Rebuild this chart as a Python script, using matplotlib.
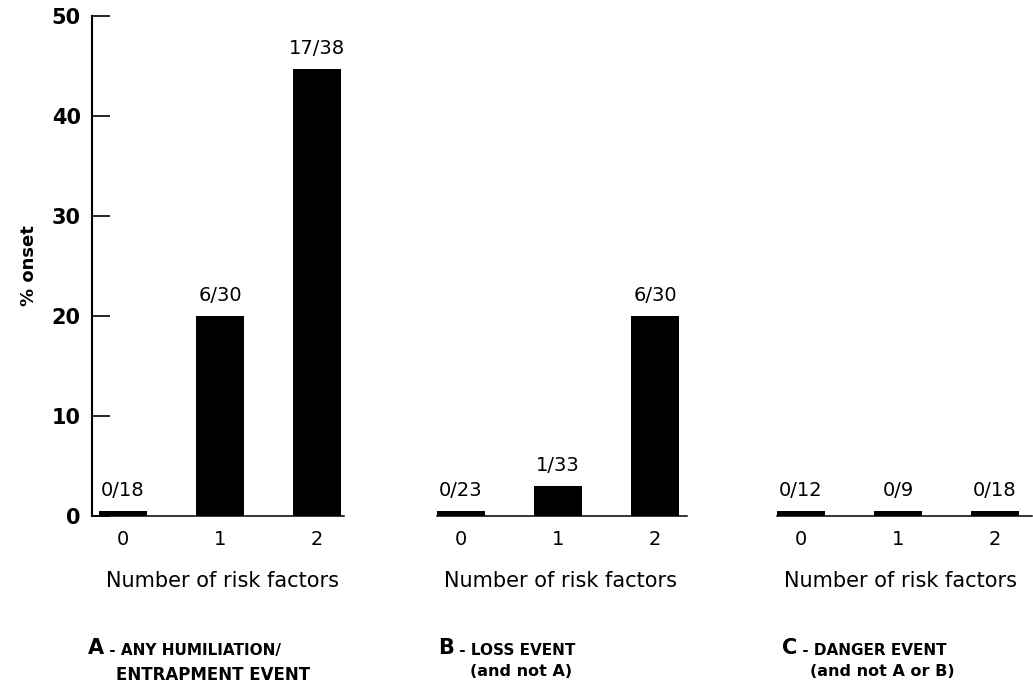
import numpy as np
import matplotlib
matplotlib.use("Agg")
import matplotlib.pyplot as plt

# Onset counts per number of risk factors, for each event type
risk_levels = ["0", "1", "2"]
onset_a = [0, 6, 17]
total_a = [18, 30, 38]
onset_b = [0, 1, 6]
total_b = [23, 33, 30]
onset_c = [0, 0, 0]
total_c = [12, 9, 18]

panel_letters = ["A", "B", "C"]
panel_heads = [" - ANY HUMILIATION/", " - LOSS EVENT", " - DANGER EVENT"]
panel_subs = ["ENTRAPMENT EVENT", "(and not A)", "(and not A or B)"]

y_ticks = [0, 10, 20, 30, 40, 50]
x_label = "Number of risk factors"
y_label = "% onset"

plt.rcParams["font.family"] = ["DejaVu Sans"]

W, H = 1033, 684
fig = plt.figure(figsize=(W / 100, H / 100), dpi=100)

# geometry in pixels
unit = 97.0
first_centres = [123, 461, 801]
xlim = (-0.32, 2.38)
y0_px, y50_px = 516, 16
base_bounds = [(-0.32, 2.28), (-0.25, 2.33), (-0.25, 2.38)]
zero_stub = 0.5  # visible sliver for 0% bars

groups = [(onset_a, total_a), (onset_b, total_b), (onset_c, total_c)]
x = np.arange(len(risk_levels))

axes = []
for i, (num, den) in enumerate(groups):
    left_px = first_centres[i] + xlim[0] * unit
    width_px = (xlim[1] - xlim[0]) * unit
    ax = fig.add_axes([left_px / W, (H - y0_px) / H,
                       width_px / W, (y0_px - y50_px) / H])
    axes.append(ax)
    num = np.asarray(num, float)
    den = np.asarray(den, float)
    pct = 100.0 * num / den
    heights = np.where(pct == 0, zero_stub, pct)
    ax.bar(x, heights, width=0.5, color="black", edgecolor="none", zorder=3)
    for xi, h, n, d in zip(x, heights, num, den):
        ax.annotate(f"{int(n)}/{int(d)}", (xi, h), xytext=(0, 8),
                    textcoords="offset points", ha="center", va="bottom",
                    fontsize=14)
    ax.set_xlim(*xlim)
    ax.set_ylim(0, 50)
    ax.set_xticks(x)
    ax.set_xticklabels(risk_levels, fontsize=14)
    ax.tick_params(axis="x", length=0, pad=10)
    ax.set_xlabel(x_label, fontsize=15, labelpad=16)
    for s in ["top", "right"]:
        ax.spines[s].set_visible(False)
    ax.spines["bottom"].set_bounds(*base_bounds[i])
    ax.spines["bottom"].set_linewidth(1.1)
    if i == 0:
        ax.spines["left"].set_linewidth(1.5)
        ax.set_yticks(y_ticks)
        ax.set_yticklabels([str(t) for t in y_ticks], fontsize=15,
                           fontweight="bold")
        ax.tick_params(axis="y", direction="in", length=13, width=1.2, pad=8)
        ax.set_ylabel(y_label, fontsize=13, fontweight="bold", labelpad=10)
    else:
        ax.spines["left"].set_visible(False)
        ax.set_yticks([])

# panel captions below each group
cap_left = [88, 438, 782]
sub_left = [116, 470, 810]
cap_base = 654
sub_base = [680, 676, 676]
for i in range(3):
    t = fig.text(cap_left[i] / W, (H - cap_base) / H, panel_letters[i],
                 fontsize=15, fontweight="bold", ha="left", va="baseline")
    axes[i].annotate(panel_heads[i], xy=(1, 0), xycoords=t,
                     fontsize=11, fontweight="bold", ha="left", va="bottom",
                     annotation_clip=False)
    fig.text(sub_left[i] / W, (H - sub_base[i]) / H, panel_subs[i],
             fontsize=12 if i == 0 else 11.5, fontweight="bold",
             ha="left", va="baseline")

fig.savefig("out.png", dpi=100)
